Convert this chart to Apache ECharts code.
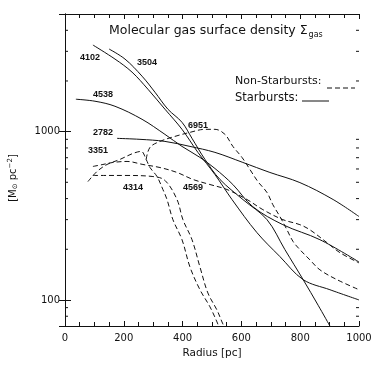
<!DOCTYPE html>
<html>
<head>
<meta charset="utf-8">
<script src="https://cdn.jsdelivr.net/npm/echarts@6/dist/echarts.min.js"></script>
<style>
  html, body { margin: 0; padding: 0; background: #fff; }
  #chart { width: 382px; height: 365px; }
</style>
</head>
<body>
<div id="chart"></div>
<script>
// [radius pc, surface density Msun/pc^2]
// starbursts (solid)
const sb4102 = [[95, 3270], [170, 2699], [228, 2257], [282, 1787], [340, 1359], [398, 1032], [452, 753], [510, 556], [568, 395], [653, 251], [731, 181], [810, 132], [901, 115], [1000, 100]];
const sb3504 = [[150, 3096], [204, 2699], [262, 2136], [306, 1715], [350, 1359], [398, 1136], [432, 912], [476, 684], [527, 520], [605, 395], [687, 300], [748, 199], [810, 132], [861, 93], [901, 70]];
const sb4536 = [[37, 1558], [102, 1516], [170, 1415], [262, 1184], [340, 963], [398, 817], [459, 703], [510, 604], [571, 485], [639, 358], [741, 280], [867, 228], [1000, 168]];
const sb2782 = [[177, 912], [255, 900], [340, 875], [425, 817], [510, 753], [605, 656], [697, 572], [799, 498], [912, 395], [1000, 313]];
// non-starbursts (dashed)
const ns6951 = [[276, 684], [289, 806], [323, 875], [374, 937], [425, 990], [476, 1032], [510, 1032], [544, 964], [571, 817], [602, 703], [629, 596], [656, 505], [687, 435], [707, 368], [731, 313], [755, 261], [776, 222], [799, 199], [833, 173], [867, 151], [925, 132], [1000, 115]];
const ns4569 = [[95, 621], [129, 638], [163, 656], [211, 665], [265, 638], [323, 612], [381, 572], [435, 520], [493, 485], [551, 453], [619, 395], [673, 344], [741, 300], [799, 280], [833, 261], [891, 219], [935, 191], [1000, 166]];
const ns3351 = [[78, 505], [109, 580], [143, 638], [187, 684], [231, 742], [259, 763], [276, 684], [289, 612], [313, 541], [333, 453], [347, 395], [367, 300], [398, 228], [425, 157], [459, 115], [493, 91], [517, 74], [522, 70]];
const ns4314 = [[95, 549], [143, 549], [204, 549], [299, 541], [340, 513], [381, 395], [401, 300], [432, 228], [459, 157], [486, 110], [517, 87], [534, 74], [540, 70]];

const xTicks = [0, 200, 400, 600, 800, 1000];
const yMinorTicks = [80, 90, 200, 300, 400, 500, 600, 700, 800, 900, 2000, 3000, 4000];

const ink = '#111';
const dash = [5, 3];

var myChart = echarts.init(document.getElementById('chart'));

const curve = (name, data, dashed) => ({
  name: name,
  type: 'line',
  data: data,
  smooth: 0.35,
  showSymbol: false,
  symbol: 'none',
  clip: true,
  lineStyle: { color: ink, width: 1, type: dashed ? dash : 'solid' },
  z: 3
});

const label = (text, x, y) => ({
  type: 'text', left: x, top: y,
  style: { text: text, font: 'bold 9px "Liberation Sans"', fill: ink }
});

const getOptions = () => {
  return {
    animation: false,
    backgroundColor: '#fff',
    grid: { left: 65, right: 23, top: 14, bottom: 39 },
    xAxis: [
      {
        type: 'value', min: 0, max: 1000, interval: 200,
        axisLine: { lineStyle: { color: ink } },
        axisTick: { inside: true, length: 5, lineStyle: { color: ink } },
        minorTick: { show: true, splitNumber: 4, length: 4, lineStyle: { color: ink } },
        splitLine: { show: false },
        axisLabel: {
          color: ink, fontSize: 10, fontFamily: 'DejaVu Sans', margin: 7,
          formatter: v => (xTicks.indexOf(v) >= 0 ? String(v) : '')
        },
        name: 'Radius [pc]', nameLocation: 'middle', nameGap: 15,
        nameTextStyle: { color: ink, fontSize: 10.5, fontFamily: 'DejaVu Sans' }
      },
      {
        type: 'value', min: 0, max: 1000, interval: 200, position: 'top',
        axisLine: { lineStyle: { color: ink } },
        axisTick: { inside: true, length: 5, lineStyle: { color: ink } },
        minorTick: { show: true, splitNumber: 4, length: 4, lineStyle: { color: ink } },
        splitLine: { show: false },
        axisLabel: { show: false }
      }
    ],
    yAxis: [
      {
        type: 'log', logBase: 10, min: 70, max: 5000,
        axisLine: { lineStyle: { color: ink } },
        axisTick: { inside: true, length: 6, lineStyle: { color: ink } },
        splitLine: { show: false },
        axisLabel: {
          color: ink, fontSize: 10, fontFamily: 'DejaVu Sans', margin: 5,
          showMinLabel: false, showMaxLabel: false,
          formatter: v => String(Math.round(v))
        }
      },
      {
        type: 'log', logBase: 10, min: 70, max: 5000, position: 'right',
        axisLine: { lineStyle: { color: ink } },
        axisTick: { inside: true, length: 6, lineStyle: { color: ink } },
        splitLine: { show: false },
        axisLabel: { show: false }
      }
    ],
    series: [
      curve('4102', sb4102, false),
      curve('3504', sb3504, false),
      curve('4536', sb4536, false),
      curve('2782', sb2782, false),
      curve('6951', ns6951, true),
      curve('4569', ns4569, true),
      curve('3351', ns3351, true),
      curve('4314', ns4314, true),
      {
        // log minor ticks on both y sides
        type: 'custom',
        silent: true,
        data: yMinorTicks.map(v => [0, v]),
        encode: { x: 0, y: 1 },
        z: 4,
        renderItem: (params, api) => {
          const v = api.value(1);
          const l = api.coord([0, v]);
          const r = api.coord([1000, v]);
          const st = { stroke: ink, lineWidth: 1 };
          return {
            type: 'group',
            children: [
              { type: 'line', shape: { x1: l[0], y1: l[1], x2: l[0] + 3, y2: l[1] }, style: st },
              { type: 'line', shape: { x1: r[0] - 3, y1: r[1], x2: r[0], y2: r[1] }, style: st }
            ]
          };
        }
      }
    ],
    graphic: [
      {
        type: 'text', left: 109, top: 24,
        style: {
          text: '{t|Molecular gas surface density Σ}{s|gas}',
          rich: {
            t: { font: '12.5px "DejaVu Sans"', fill: ink },
            s: { font: '8px "DejaVu Sans"', fill: ink, padding: [8, 0, 0, 1] }
          }
        }
      },
      {
        type: 'text', x: 13, y: 178, rotation: Math.PI / 2,
        style: {
          text: '{a|[M}{b|⊙}{a| pc}{c|−2}{a|]}',
          align: 'center', verticalAlign: 'middle',
          rich: {
            a: { font: '10px "DejaVu Sans"', fill: ink },
            b: { font: '7px "DejaVu Sans"', fill: ink, padding: [5, 0, 0, 0] },
            c: { font: '7px "DejaVu Sans"', fill: ink, padding: [0, 0, 5, 0] }
          }
        }
      },
      { type: 'text', left: 235, top: 76, style: { text: 'Non-Starbursts:', font: '11px "DejaVu Sans"', fill: ink } },
      { type: 'line', shape: { x1: 327, y1: 88, x2: 355, y2: 88 }, style: { stroke: ink, lineWidth: 1, lineDash: dash } },
      { type: 'text', left: 235, top: 92, style: { text: 'Starbursts:', font: '11.5px "DejaVu Sans"', fill: ink } },
      { type: 'line', shape: { x1: 302, y1: 101, x2: 329, y2: 101 }, style: { stroke: ink, lineWidth: 1 } },
      label('4102', 80, 53),
      label('3504', 137, 58),
      label('4538', 93, 90),
      label('2782', 93, 128),
      label('3351', 88, 146),
      label('6951', 188, 121),
      label('4314', 123, 183),
      label('4569', 183, 183)
    ]
  };
};

myChart.setOption(getOptions(), true);
</script>
</body>
</html>
